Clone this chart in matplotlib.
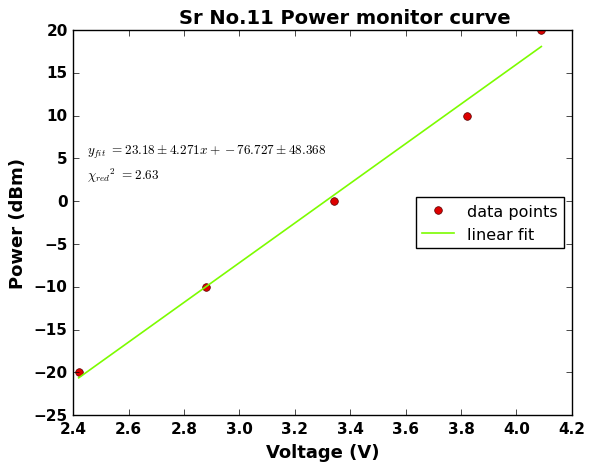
import numpy as np
import matplotlib
matplotlib.use("Agg")
import matplotlib.pyplot as plt

plt.style.use('classic')

voltage = [2.42, 2.88, 3.34, 3.82, 4.09]
power = [-20, -10, 0, 10, 20]
slope, slope_err = 23.18, 4.271
intercept, intercept_err = -76.727, 48.368
chi2_red = 2.63
xticks = [2.4, 2.6, 2.8, 3.0, 3.2, 3.4, 3.6, 3.8, 4.0, 4.2]

fig = plt.figure(figsize=(5.95, 4.64), dpi=100, facecolor='white')
ax = fig.add_axes([0.123, 0.103, 0.838, 0.83])

ax.plot(voltage, power, 'o', color='#dd0000', markeredgecolor='#550000',
        markersize=5.5, label='data points')
xfit = np.array([voltage[0], voltage[-1]])
ax.plot(xfit, slope * xfit + intercept, '-', color='#7cfc00', lw=1.2,
        label='linear fit')

ax.text(2.45, 5.6, r'$y_{fit}$ $= %.2f \pm %.3f x + %.3f \pm %.3f$'
        % (slope, slope_err, intercept, intercept_err), fontsize=9.5)
ax.text(2.45, 2.6, r'$\chi_{red}{}^2$ $= %.2f$' % chi2_red, fontsize=9.5)

ax.set_xlim(2.4, 4.2)
ax.set_ylim(-25, 20)
ax.set_xticks(xticks)
ax.set_xlabel('Voltage (V)', fontsize=13, fontweight='bold')
ax.set_ylabel('Power (dBm)', fontsize=13, fontweight='bold')
ax.set_title('Sr No.11 Power monitor curve', fontsize=14, fontweight='bold',
             x=0.545)
for lab in ax.get_xticklabels() + ax.get_yticklabels():
    lab.set_fontweight('bold')
    lab.set_fontsize(11)

ax.legend(loc='center right', numpoints=1, fontsize=11.5)

fig.savefig('out.png', dpi=100, facecolor='white')
